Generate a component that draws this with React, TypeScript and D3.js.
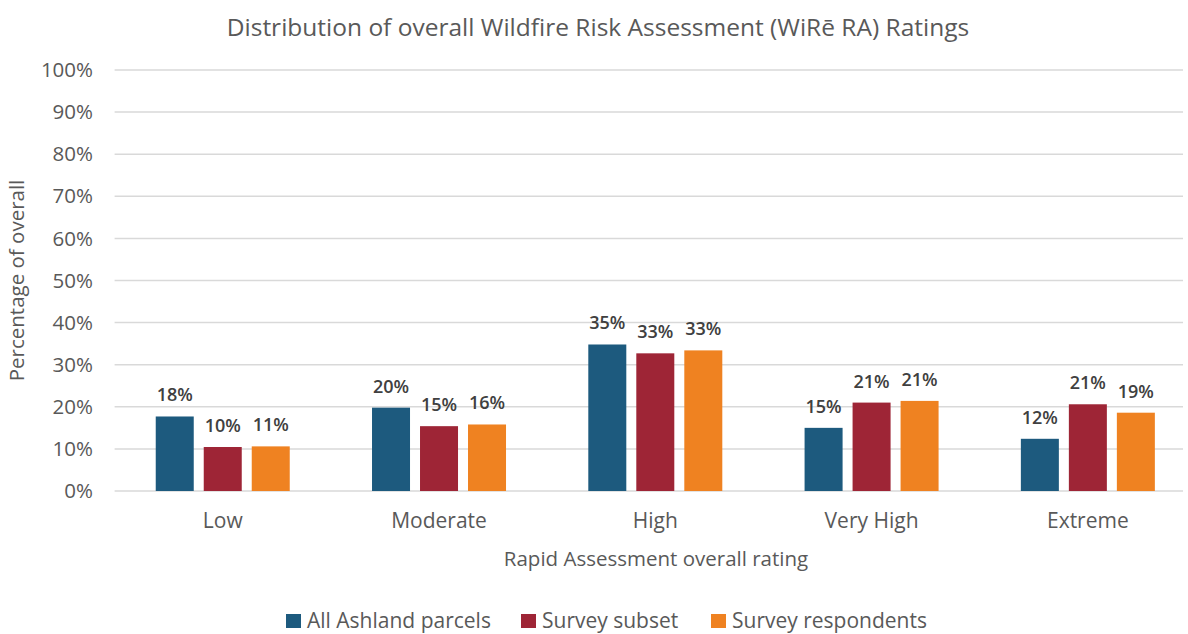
import React from 'react';
import * as d3 from 'd3';

const categories = ['Low', 'Moderate', 'High', 'Very High', 'Extreme'];
const seriesNames = ['All Ashland parcels', 'Survey subset', 'Survey respondents'];
const allParcels = [17.7, 19.8, 34.8, 15.0, 12.4];
const surveySubset = [10.45, 15.4, 32.7, 21.0, 20.6];
const surveyRespondents = [10.6, 15.8, 33.4, 21.4, 18.6];
const yTicks = [0, 10, 20, 30, 40, 50, 60, 70, 80, 90, 100];

const colors = ['#1d5a7e', '#9e2536', '#ef8221'];
const font = '"Open Sans", sans-serif';

const W = 1188;
const H = 634;
const margin = { top: 70, bottom: 143, left: 114.6, right: -8 };

export default function App() {
  const series = [allParcels, surveySubset, surveyRespondents];

  const x0 = d3.scaleBand<string>()
    .domain(categories)
    .range([margin.left, W - margin.right])
    .padding(0);

  // three bars + gaps sit in the middle of each category band
  const groupW = 134;
  const x1 = d3.scaleBand<string>()
    .domain(seriesNames)
    .range([(x0.bandwidth() - groupW) / 2, (x0.bandwidth() + groupW) / 2])
    .paddingInner(0.2083)
    .paddingOuter(0);

  const y = d3.scaleLinear().domain([0, 100]).range([H - margin.bottom, margin.top]);

  const gridRight = 1183;

  // legend layout
  const legend = [
    { name: seriesNames[0], x: 286 },
    { name: seriesNames[1], x: 521 },
    { name: seriesNames[2], x: 711 },
  ];

  return (
    <svg width={W} height={H} style={{ position: 'absolute', left: 0, top: 0, background: '#fff' }} fontFamily={font}>
      <text x={598} y={36} textAnchor="middle" fontSize={24.5} fill="#595959">
        Distribution of overall Wildfire Risk Assessment (WiRē RA) Ratings
      </text>

      {/* gridlines + y ticks */}
      {yTicks.map(t => (
        <g key={t}>
          <line x1={margin.left} x2={gridRight} y1={y(t)} y2={y(t)} stroke="#d9d9d9" strokeWidth={1.5} />
          <text x={93} y={y(t)} dy="0.35em" textAnchor="end" fontSize={20.5} fill="#595959">{t}%</text>
        </g>
      ))}

      {/* bars */}
      {categories.map((c, i) => (
        <g key={c} transform={`translate(${x0(c)},0)`}>
          {series.map((vals, s) => {
            const bx = x1(seriesNames[s])!;
            const v = vals[i];
            return (
              <g key={s}>
                <rect x={bx} y={y(v)} width={x1.bandwidth()} height={y(0) - y(v)} fill={colors[s]} />
                <text x={bx + x1.bandwidth() / 2} y={y(v) - 15} textAnchor="middle" fontSize={18} fontWeight={600} fill="#404040">
                  {Math.round(v)}%
                </text>
              </g>
            );
          })}
          <text x={x0.bandwidth() / 2} y={528} textAnchor="middle" fontSize={21} fill="#595959">{c}</text>
        </g>
      ))}

      {/* axis titles */}
      <text x={656} y={566} textAnchor="middle" fontSize={20.5} fill="#595959">Rapid Assessment overall rating</text>
      <text transform={`translate(24,${(y(0) + y(100)) / 2}) rotate(-90)`} textAnchor="middle" fontSize={20.5} fill="#595959">
        Percentage of overall
      </text>

      {/* legend */}
      {legend.map((l, i) => (
        <g key={l.name}>
          <rect x={l.x} y={614} width={15} height={14} fill={colors[i]} />
          <text x={l.x + 21} y={621} dy="0.35em" fontSize={21} fill="#595959">{l.name}</text>
        </g>
      ))}
    </svg>
  );
}
